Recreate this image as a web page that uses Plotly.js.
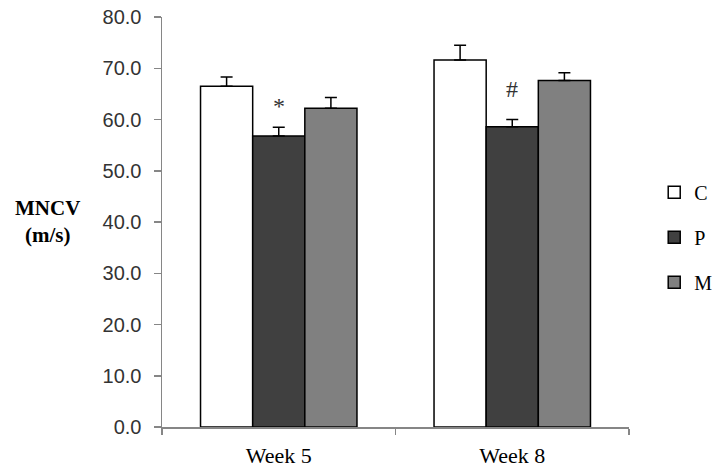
<!DOCTYPE html>
<html>
<head>
<meta charset="utf-8">
<script src="https://cdn.plot.ly/plotly-3.0.1.min.js"></script>
<style>html,body{margin:0;padding:0;background:#fff;}#chart{width:718px;height:470px;}</style>
</head>
<body>
<div id="chart"></div>
<script>
const categories = ['Week 5', 'Week 8'];
const seriesNames = ['C', 'P', 'M'];
const valuesC = [66.5, 71.6];
const valuesP = [56.8, 58.6];
const valuesM = [62.2, 67.6];
const errC = [1.8, 2.9];
const errP = [1.7, 1.4];
const errM = [2.1, 1.5];
const sigLabels = ['*', '#'];
const sigY = [62.6, 66.0];
const yTicks = [0, 10, 20, 30, 40, 50, 60, 70, 80];

const SERIF = '"Liberation Serif", "Times New Roman", Times, serif';
const SANS = '"Liberation Sans", Arial, sans-serif';
const colors = ['#ffffff', '#404040', '#808080'];
const vals = [valuesC, valuesP, valuesM];
const errs = [errC, errP, errM];

const traces = seriesNames.map((n, i) => ({
  type: 'bar',
  name: n,
  x: categories,
  y: vals[i],
  legendgroup: n,
  marker: {color: colors[i], line: {color: '#000', width: 1.5}},
  error_y: {type: 'data', symmetric: false, array: errs[i], arrayminus: errs[i].map(() => 0),
            visible: true, color: '#000', thickness: 1.5, width: 6},
  hoverinfo: 'none'
}));

const annotations = categories.map((c, i) => ({
  x: c, y: sigY[i], xref: 'x', yref: 'y', text: sigLabels[i], showarrow: false,
  font: {family: SERIF, size: 24, color: '#333'}
}));
annotations.push({
  xref: 'paper', yref: 'paper', x: -0.246, y: 0.502, xanchor: 'center', yanchor: 'middle',
  text: '<b>MNCV</b><br><b>(m/s)</b>', showarrow: false,
  font: {family: SERIF, size: 21, color: '#000'}
});

const layout = {
  width: 718, height: 470,
  margin: {l: 162, r: 89, t: 17, b: 43, autoexpand: false},
  paper_bgcolor: '#fff', plot_bgcolor: '#fff',
  barmode: 'group', bargap: 0.33, bargroupgap: 0,
  showlegend: true,
  legend: {x: 1.054, y: 0.62, xanchor: 'left', yanchor: 'top', traceorder: 'grouped', tracegroupgap: 16,
           itemwidth: 30,
           font: {family: SERIF, size: 20, color: '#000'}},
  xaxis: {type: 'category', showline: true, linecolor: '#868686', linewidth: 1.5,
          ticks: 'outside', tickson: 'boundaries', ticklen: 6, tickcolor: '#868686', tickwidth: 1.5,
          ticklabelstandoff: 8,
          tickfont: {family: SERIF, size: 22, color: '#000'}, showgrid: false, zeroline: false},
  yaxis: {range: [0, 80], tickvals: yTicks, tickformat: '.1f', showline: true, linecolor: '#868686', linewidth: 1.5,
          ticks: 'outside', ticklen: 7, tickcolor: '#868686', tickwidth: 1.5, showgrid: false, zeroline: false,
          ticklabelstandoff: 8,
          tickfont: {family: SANS, size: 20, color: '#333'}},
  annotations: annotations
};

Plotly.newPlot('chart', traces, layout, {displayModeBar: false, staticPlot: true});
</script>
</body>
</html>
